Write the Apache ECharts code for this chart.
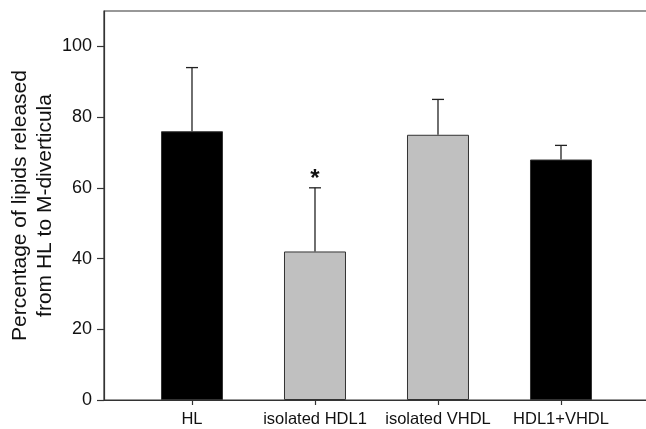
<!DOCTYPE html>
<html>
<head>
<meta charset="utf-8">
<script src="https://cdn.jsdelivr.net/npm/echarts@6/dist/echarts.min.js"></script>
<style>html,body{margin:0;padding:0;background:#fff}#c{width:646px;height:429px}</style>
</head>
<body>
<div id="c"></div>
<script>
const categories = ['HL', 'isolated HDL1', 'isolated VHDL', 'HDL1+VHDL'];
const positions = [1, 2, 3, 4];
const means = [76, 42, 75, 68];
const errUpper = [94, 60, 85, 72];
const barColors = ['#000000', '#c0c0c0', '#c0c0c0', '#000000'];
const significance = ['', '*', '', ''];
const yTicks = [0, 20, 40, 60, 80, 100];

const FONT = '"Liberation Sans", Arial, Helvetica, sans-serif';
const chart = echarts.init(document.getElementById('c'));

const barData = positions.map((p, i) => ({
  value: [p, means[i]],
  itemStyle: { color: barColors[i] }
}));
const errData = positions.map((p, i) => [p, means[i], errUpper[i], i]);

chart.setOption({
  animation: false,
  grid: { left: 104, top: 11, width: 560, height: 389, outerBoundsMode: 'none', containLabel: false,
          show: true, borderColor: '#333', borderWidth: 1.2, backgroundColor: 'transparent' },
  xAxis: {
    type: 'value', min: 0.2846, max: 0.2846 + 560 / 123,
    splitLine: { show: false },
    axisLine: { show: true, lineStyle: { color: '#333', width: 1.2 } },
    axisTick: { show: true, customValues: positions, length: 5, lineStyle: { color: '#333', width: 1.2 } },
    axisLabel: {
      customValues: positions, margin: 11, fontSize: 16.5, color: '#111', fontFamily: FONT,
      formatter: v => categories[positions.indexOf(Math.round(v))] || ''
    }
  },
  yAxis: {
    type: 'value', min: 0, max: 110,
    name: 'Percentage of lipids released\nfrom HL to M-diverticula',
    nameLocation: 'middle', nameGap: 46, nameMoveOverlap: false,
    nameTextStyle: { fontSize: 21, lineHeight: 25, color: '#111', fontFamily: FONT },
    splitLine: { show: false },
    axisLine: { show: true, lineStyle: { color: '#333', width: 1.2 } },
    axisTick: { show: true, customValues: yTicks, length: 7, lineStyle: { color: '#333', width: 1.2 } },
    axisLabel: { customValues: yTicks, margin: 12, fontSize: 18, color: '#111', fontFamily: FONT }
  },
  series: [
    {
      type: 'bar', data: barData, barWidth: 62,
      itemStyle: { borderColor: '#333', borderWidth: 1 }
    },
    {
      type: 'custom', data: errData, z: 5,
      renderItem: (params, api) => {
        const x = api.value(0), lo = api.value(1), hi = api.value(2), idx = api.value(3);
        const pLo = api.coord([x, lo]);
        const pHi = api.coord([x, hi]);
        const st = { stroke: '#222', lineWidth: 1.3 };
        const children = [
          { type: 'line', shape: { x1: pLo[0], y1: pLo[1], x2: pHi[0], y2: pHi[1] }, style: st },
          { type: 'line', shape: { x1: pHi[0] - 6, y1: pHi[1], x2: pHi[0] + 6, y2: pHi[1] }, style: st }
        ];
        if (significance[idx]) {
          children.push({ type: 'text', x: pHi[0], y: pHi[1] + 4,
            style: { text: significance[idx], fontSize: 24, fontWeight: 'bold', fontFamily: FONT, fill: '#111', align: 'center', verticalAlign: 'bottom' } });
        }
        return { type: 'group', children };
      }
    }
  ]
});
</script>
</body>
</html>
